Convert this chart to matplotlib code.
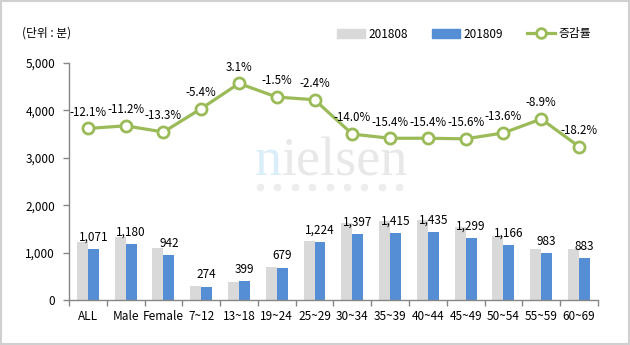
import matplotlib
matplotlib.use("Agg")
import matplotlib.pyplot as plt
from matplotlib.patches import Rectangle
from matplotlib.lines import Line2D
import numpy as np

plt.rcParams['font.family'] = ['Noto Sans CJK KR', 'DejaVu Sans']

categories = ["ALL", "Male", "Female", "7~12", "13~18", "19~24", "25~29",
              "30~34", "35~39", "40~44", "45~49", "50~54", "55~59", "60~69"]
minutes_201808 = [1218, 1329, 1087, 290, 387, 689, 1254,
                  1624, 1673, 1696, 1539, 1350, 1079, 1079]
minutes_201809 = [1071, 1180, 942, 274, 399, 679, 1224,
                  1397, 1415, 1435, 1299, 1166, 983, 883]
change_rate = [-12.1, -11.2, -13.3, -5.4, 3.1, -1.5, -2.4,
               -14.0, -15.4, -15.4, -15.6, -13.6, -8.9, -18.2]
yticks = [0, 1000, 2000, 3000, 4000, 5000]

GRAY = "#D9D9D9"
BLUE = "#558ED5"
GREEN = "#9BBB59"
AXIS = "#868686"
TEXT = "#000000"

fig = plt.figure(figsize=(6.3, 3.45), dpi=100)
fig.patch.set_facecolor("white")
fig.patches.append(Rectangle((0.0015, 0.003), 0.997, 0.994, transform=fig.transFigure,
                             fill=False, edgecolor="#D0D0D0", linewidth=1.5))

# watermark layer behind the chart
bg = fig.add_axes([0, 0, 1, 1], zorder=-1)
bg.set_xlim(0, 630)
bg.set_ylim(345, 0)
bg.axis("off")
bg.text(255, 175, "n", fontsize=39, color="#D9EEF9", family="Liberation Serif",
        ha="left", va="baseline")
bg.text(282, 175, "ielsen", fontsize=39, color="#E8E8E8", family="Liberation Serif",
        ha="left", va="baseline")
bg.plot(np.linspace(260, 399, 9), [187] * 9, linestyle="none", marker="o",
        markersize=4.5, color="#EDEDED")

ax = fig.add_axes([0.1095, 0.1304, 0.8395, 0.687])
ax.patch.set_alpha(0)
x = np.arange(len(categories))
w = 0.29
ax.bar(x - w / 2, minutes_201808, width=w, color=GRAY, zorder=2)
ax.bar(x + w / 2, minutes_201809, width=w, color=BLUE, zorder=2)

for xi, v in zip(x, minutes_201809):
    ax.annotate(f"{v:,}", (xi + w / 2, v), xytext=(0, 4), textcoords="offset points",
                ha="center", va="bottom", fontsize=8.5, color=TEXT, zorder=5)

ax.set_xlim(-0.5, len(categories) - 0.5)
ax.set_ylim(0, 5000)
ax.set_yticks(yticks)
ax.set_yticklabels([f"{t:,}" for t in yticks], fontsize=8.5, color=TEXT)
ax.set_xticks(x)
ax.set_xticklabels(categories, fontsize=8.5, color=TEXT)
ax.tick_params(axis="x", length=0, pad=7)
ax.tick_params(axis="y", length=4, color=AXIS, width=1, pad=6)
ax.set_xticks(np.arange(-0.5, len(categories)), minor=True)
ax.tick_params(axis="x", which="minor", length=4, color=AXIS, width=1)
for s in ["top", "right"]:
    ax.spines[s].set_visible(False)
for s in ["left", "bottom"]:
    ax.spines[s].set_color(AXIS)
    ax.spines[s].set_linewidth(1)

ax2 = ax.twinx()
ax2.set_ylim(-70, 10)
ax2.plot(x, change_rate, color=GREEN, linewidth=2.3, marker="o", markersize=8,
         markerfacecolor="white", markeredgecolor=GREEN, markeredgewidth=2, zorder=4)
for xi, r in zip(x, change_rate):
    ax2.annotate(f"{r:.1f}%", (xi, r), xytext=(0, 7), textcoords="offset points",
                 ha="center", va="bottom", fontsize=8.3, color=TEXT, zorder=6)
ax2.axis("off")

fig.text(22 / 630, 1 - 33 / 345, "(단위 : 분)", fontsize=8.5, color=TEXT, va="center")

handles = [Rectangle((0, 0), 1, 1, color=GRAY), Rectangle((0, 0), 1, 1, color=BLUE),
           Line2D([], [], color=GREEN, linewidth=2.3, marker="o", markersize=7,
                  markerfacecolor="white", markeredgecolor=GREEN, markeredgewidth=2)]
fig.legend(handles, ["201808", "201809", "증감률"], loc="center left",
           bbox_to_anchor=(326 / 630, 1 - 34 / 345), ncol=3, frameon=False,
           fontsize=8.5, handlelength=2.4, handleheight=0.8, handletextpad=0.3,
           columnspacing=2.0)

fig.savefig("out.png", dpi=100)
